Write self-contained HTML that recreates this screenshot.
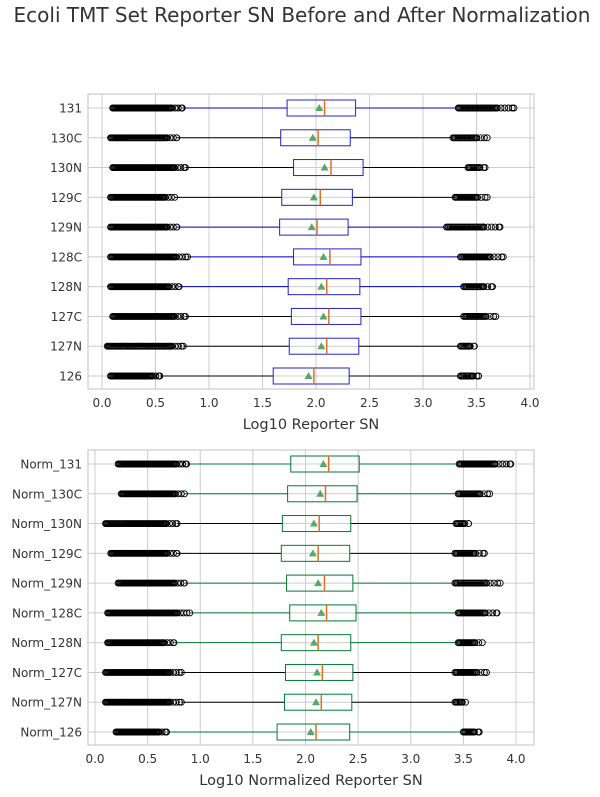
<!DOCTYPE html>
<html><head><meta charset="utf-8"><style>
body{margin:0;background:#fff;font-family:"DejaVu Sans","Liberation Sans",sans-serif;}
svg text{font-family:"DejaVu Sans","Liberation Sans",sans-serif;fill:#333;}
</style></head><body>
<svg id="chart" width="600" height="793" viewBox="0 0 600 793">
<text x="302" y="22" font-size="20" text-anchor="middle">Ecoli TMT Set Reporter SN Before and After Normalization</text>
</svg>
<script>
const topLabels=["126","127N","127C","128N","128C","129N","129C","130N","130C","131"];
const topLowMin=[0.08,0.05,0.1,0.08,0.08,0.08,0.08,0.1,0.08,0.1];
const topLowMax=[0.54,0.76,0.78,0.72,0.8,0.7,0.68,0.78,0.7,0.75];
const topQ1=[1.6,1.75,1.77,1.74,1.79,1.66,1.68,1.79,1.67,1.73];
const topMed=[1.98,2.1,2.12,2.1,2.13,2.01,2.04,2.14,2.02,2.08];
const topQ3=[2.31,2.4,2.42,2.41,2.42,2.3,2.34,2.44,2.32,2.37];
const topHiW=[3.35,3.35,3.38,3.38,3.35,3.22,3.3,3.42,3.28,3.33];
const topHiMax=[3.52,3.48,3.68,3.65,3.75,3.72,3.6,3.58,3.6,3.85];
const topMean=[1.93,2.05,2.07,2.05,2.07,1.96,1.98,2.08,1.97,2.03];
const topWhiskerColor=["#000","#000","#000","#0000cc","#0000cc","#0000cc","#000","#000","#000","#0000cc"];
const botLabels=["Norm_126","Norm_127N","Norm_127C","Norm_128N","Norm_128C","Norm_129N","Norm_129C","Norm_130N","Norm_130C","Norm_131"];
const botLowMin=[0.2,0.1,0.1,0.12,0.12,0.22,0.15,0.1,0.25,0.22];
const botLowMax=[0.68,0.82,0.82,0.75,0.9,0.85,0.78,0.78,0.85,0.87];
const botQ1=[1.73,1.8,1.81,1.77,1.85,1.82,1.77,1.78,1.83,1.86];
const botMed=[2.1,2.15,2.16,2.12,2.2,2.18,2.12,2.13,2.19,2.22];
const botQ3=[2.42,2.44,2.45,2.43,2.48,2.45,2.42,2.43,2.49,2.51];
const botHiW=[3.5,3.42,3.42,3.45,3.45,3.42,3.42,3.43,3.45,3.46];
const botHiMax=[3.65,3.52,3.72,3.68,3.82,3.85,3.7,3.55,3.75,3.95];
const botMean=[2.05,2.1,2.11,2.08,2.15,2.12,2.07,2.08,2.14,2.17];
const botWhiskerColor=["#007a33","#000","#000","#007a33","#007a33","#007a33","#000","#000","#007a33","#007a33"];
const xTicks=["0.0","0.5","1.0","1.5","2.0","2.5","3.0","3.5","4.0"];

const NS="http://www.w3.org/2000/svg";
const svg=document.getElementById('chart');
function mk(tag,attrs,parent){const e=document.createElementNS(NS,tag);for(const k in attrs)e.setAttribute(k,attrs[k]);(parent||svg).appendChild(e);return e;}

function panel(cfg){
  const g=mk('g',{});
  
  
  const xs=v=>cfg.x0+v*cfg.k;
  const n=cfg.labels.length;
  const ys=i=>cfg.yBottom-(i)*(cfg.yBottom-cfg.yTop)/(n-1);
  xTicks.forEach(t=>{const x=xs(parseFloat(t));mk('line',{x1:x,x2:x,y1:cfg.top,y2:cfg.bottom,stroke:'#ccc','stroke-width':1},g);
    const tx=mk('text',{x:x,y:cfg.bottom+18,'font-size':12,'text-anchor':'middle'},g);tx.textContent=t;
    
    });
  cfg.labels.forEach((l,i)=>{const y=ys(i);mk('line',{x1:cfg.left,x2:cfg.right,y1:y,y2:y,stroke:'#ccc','stroke-width':1},g);
    const tx=mk('text',{x:cfg.left-6,y:y+4.5,'font-size':12,'text-anchor':'end'},g);tx.textContent=l;
    
    });
  mk('rect',{x:cfg.left,y:cfg.top,width:cfg.right-cfg.left,height:cfg.bottom-cfg.top,fill:'none',stroke:'#ccc','stroke-width':1.2},g);
  const xt=mk('text',{x:(cfg.left+cfg.right)/2,y:cfg.bottom+40,'font-size':14.5,'text-anchor':'middle'},g);xt.textContent=cfg.xtitle;
  
  
  cfg.labels.forEach((l,i)=>{
    const y=ys(i);const bg=mk('g',{},g);
    
    
    const wc=cfg.wc[i];
    mk('line',{x1:xs(cfg.lowMax[i]),x2:xs(cfg.q1[i]),y1:y,y2:y,stroke:wc,'stroke-width':1},bg);
    mk('line',{x1:xs(cfg.q3[i]),x2:xs(cfg.hiW[i]),y1:y,y2:y,stroke:wc,'stroke-width':1},bg);
    mk('rect',{x:xs(cfg.q1[i]),y:y-8,width:xs(cfg.q3[i])-xs(cfg.q1[i]),height:16,fill:'none',stroke:cfg.boxColor,'stroke-width':1},bg);
    mk('line',{x1:xs(cfg.med[i]),x2:xs(cfg.med[i]),y1:y-8,y2:y+8,stroke:'#e07020','stroke-width':1.5},bg);
    const mx=xs(cfg.mean[i]);
    mk('polygon',{points:`${mx},${y-4} ${mx-4},${y+3} ${mx+4},${y+3}`,fill:'#55a868'},bg);
    let path='';
    const circ=x=>`M${x-3},${y}a3,3 0 1,0 6,0a3,3 0 1,0 -6,0`;
    const lo=cfg.lowMin[i],lm=cfg.lowMax[i],span=lm-lo;
    // dense core, sparser toward whisker end
    for(let v=lo;v<=lo+span*0.85;v+=0.01)path+=circ(xs(v));
    for(let v=lo+span*0.85;v<=lm;v+=0.03)path+=circ(xs(v));
    path+=circ(xs(lm));
    const hw=cfg.hiW[i],hm=cfg.hiMax[i],hs=hm-hw;
    for(let v=hw;v<=hw+hs*0.7;v+=0.012)path+=circ(xs(v));
    for(let v=hw+hs*0.7;v<=hm;v+=0.035)path+=circ(xs(v));
    path+=circ(xs(hm));
    mk('path',{d:path,fill:'none',stroke:'#000','stroke-width':0.9},bg);
  });
}
panel({name:'top-panel',labels:topLabels,lowMin:topLowMin,lowMax:topLowMax,q1:topQ1,med:topMed,q3:topQ3,hiW:topHiW,hiMax:topHiMax,mean:topMean,wc:topWhiskerColor,boxColor:'#2222cc',
  x0:102,k:107,left:88,right:534,top:94,bottom:389,yTop:108,yBottom:376,xtitle:'Log10 Reporter SN'});
panel({name:'bottom-panel',labels:botLabels,lowMin:botLowMin,lowMax:botLowMax,q1:botQ1,med:botMed,q3:botQ3,hiW:botHiW,hiMax:botHiMax,mean:botMean,wc:botWhiskerColor,boxColor:'#007a33',
  x0:95,k:105.25,left:88,right:534,top:450,bottom:745,yTop:464,yBottom:732,xtitle:'Log10 Normalized Reporter SN'});
</script>
</body></html>
